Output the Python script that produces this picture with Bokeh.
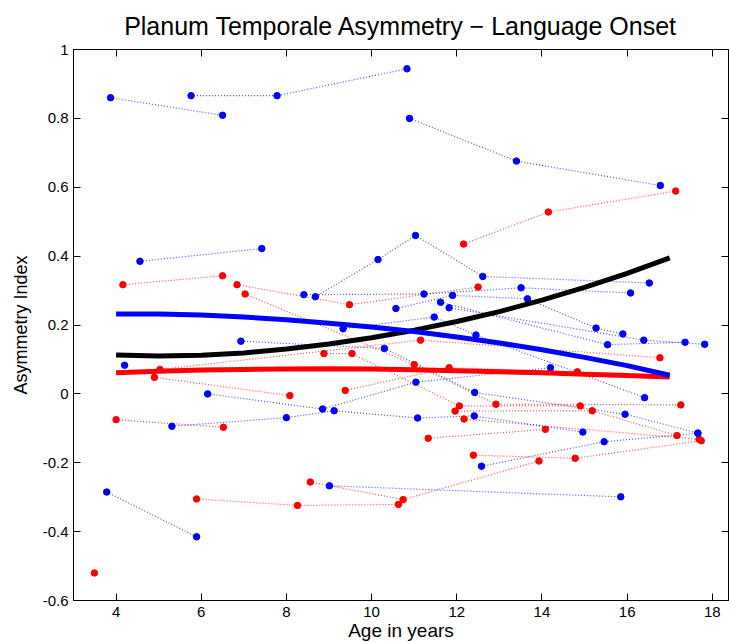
from bokeh.plotting import figure
from bokeh.models import LinearAxis, FixedTicker
from bokeh.embed import file_html
from bokeh.resources import INLINE

# ---- data (ages in years, asymmetry index) ----
blue_ages = [
    [3.87, 6.50],
    [5.76, 7.78, 10.83],
    [10.89, 13.40, 16.78],
    [4.56, 7.42],
    [8.68, 10.15, 11.03, 12.61, 16.52],
    [8.41, 11.23, 13.51, 16.08],
    [10.57, 11.90, 13.66, 15.27, 15.90],
    [11.62, 15.54, 17.36],
    [11.82, 16.39, 17.82],
    [9.33, 11.47, 12.45, 16.41],
    [6.93, 10.30, 12.42, 15.95, 17.66],
    [4.20],
    [6.15, 8.85, 11.04, 14.20],
    [5.31, 8.00, 9.12, 11.08, 12.41, 14.96],
    [12.58, 15.46, 17.66],
    [3.78, 5.89],
    [9.01, 15.85],
]
blue_ai = [
    [0.860, 0.809],
    [0.866, 0.866, 0.944],
    [0.800, 0.676, 0.605],
    [0.385, 0.422],
    [0.282, 0.390, 0.460, 0.341, 0.322],
    [0.288, 0.290, 0.308, 0.293],
    [0.248, 0.286, 0.276, 0.191, 0.174],
    [0.266, 0.143, 0.150],
    [0.250, 0.156, 0.144],
    [0.189, 0.223, 0.171, -0.011],
    [0.153, 0.132, 0.004, -0.059, -0.114],
    [0.083],
    [0.000, -0.044, 0.034, 0.076],
    [-0.094, -0.069, -0.049, -0.070, -0.064, -0.111],
    [-0.210, -0.139, -0.114],
    [-0.285, -0.415],
    [-0.267, -0.299],
]
red_ages = [
    [12.16, 14.15, 17.14],
    [4.16, 6.50],
    [6.84, 9.48, 12.50],
    [7.03, 11.00, 12.92, 17.26],
    [8.88, 9.54, 12.06, 14.90],
    [11.96, 15.18, 17.17],
    [4.90, 8.08],
    [5.03, 11.15, 16.77],
    [9.38, 11.82, 14.83],
    [11.33, 14.08],
    [12.17, 17.69],
    [12.39, 14.78, 17.74],
    [5.89, 8.26, 10.63],
    [8.56, 10.74, 13.93],
    [3.49],
    [4.00, 6.52],
]
red_ai = [
    [0.435, 0.528, 0.589],
    [0.317, 0.343],
    [0.317, 0.259, 0.310],
    [0.290, 0.085, -0.030, -0.032],
    [0.117, 0.117, -0.035, -0.035],
    [-0.050, -0.049, -0.121],
    [0.048, -0.005],
    [0.071, 0.156, 0.105],
    [0.010, 0.076, 0.064],
    [-0.129, -0.103],
    [-0.073, -0.132],
    [-0.178, -0.187, -0.136],
    [-0.305, -0.324, -0.321],
    [-0.256, -0.307, -0.195],
    [-0.520],
    [-0.075, -0.097],
]

fit_ages = [4, 5, 6, 7, 8, 9, 10, 11, 12, 13, 14, 15, 16, 17]
fit_black = [0.113, 0.110, 0.112, 0.119, 0.130, 0.145, 0.163, 0.185, 0.210, 0.239, 0.272, 0.309, 0.350, 0.395]
fit_blue = [0.232, 0.232, 0.229, 0.223, 0.215, 0.205, 0.194, 0.181, 0.165, 0.148, 0.128, 0.106, 0.082, 0.054]
fit_red = [0.061, 0.066, 0.069, 0.071, 0.072, 0.073, 0.072, 0.070, 0.067, 0.064, 0.061, 0.057, 0.053, 0.049]

x_ticks = [4, 6, 8, 10, 12, 14, 16, 18]
y_ticks = [-0.6, -0.4, -0.2, 0, 0.2, 0.4, 0.6, 0.8, 1]
y_tick_labels = ["-0.6", "-0.4", "-0.2", "0", "0.2", "0.4", "0.6", "0.8", "1"]

FONT = "Liberation Sans"
BLUE = "#0000ff"
RED = "#ff0000"

p = figure(width=729, height=643, x_range=(3, 18.38), y_range=(-0.6, 1),
           output_backend="svg", toolbar_location=None,
           min_border_left=73, min_border_right=1, min_border_top=48,
           min_border_bottom=42)
p.background_fill_color = "white"
p.border_fill_color = "white"
p.grid.visible = False
p.outline_line_color = "black"
p.outline_line_width = 1

p.title.text = "Planum Temporale Asymmetry \u2212 Language Onset"
p.title.align = "center"
p.title.text_font = FONT
p.title.text_font_size = "25px"
p.title.text_font_style = "normal"
p.title.text_color = "black"
p.title.standoff = 19

def style_axis(ax, labels=True):
    ax.axis_line_color = "black"
    ax.major_tick_line_color = "black"
    ax.major_tick_in = 7
    ax.major_tick_out = 0
    ax.minor_tick_line_color = None
    ax.major_label_text_font = FONT
    ax.major_label_text_font_size = "15px"
    ax.major_label_text_color = "black"
    ax.axis_label_text_font = FONT
    ax.axis_label_text_font_style = "normal"
    ax.axis_label_text_color = "black"
    if not labels:
        ax.major_label_text_font_size = "0px"
        ax.major_label_text_alpha = 0

xb = p.xaxis[0]
xb.ticker = FixedTicker(ticks=x_ticks)
style_axis(xb)
xb.axis_label = "Age in years"
xb.axis_label_text_font_size = "19px"
xb.axis_label_standoff = 0
xb.major_label_standoff = 6

yl = p.yaxis[0]
yl.ticker = FixedTicker(ticks=y_ticks)
yl.major_label_overrides = {t: s for t, s in zip(y_ticks, y_tick_labels)}
style_axis(yl)
yl.axis_label = "Asymmetry Index"
yl.axis_label_text_font_size = "18px"
yl.axis_label_standoff = 9
yl.major_label_standoff = 5

xt = LinearAxis(ticker=FixedTicker(ticks=x_ticks))
style_axis(xt, labels=False)
p.add_layout(xt, "above")
yr = LinearAxis(ticker=FixedTicker(ticks=y_ticks))
style_axis(yr, labels=False)
p.add_layout(yr, "right")

# subject trajectories (dotted) and visits (dots)
for ages, vals in zip(red_ages, red_ai):
    if len(ages) > 1:
        p.line(ages, vals, line_color=RED, line_width=1.2, line_dash="1 2", line_alpha=0.7)
for ages, vals in zip(blue_ages, blue_ai):
    if len(ages) > 1:
        p.line(ages, vals, line_color=BLUE, line_width=1.2, line_dash="1 2", line_alpha=0.7)
for ages, vals in zip(red_ages, red_ai):
    p.scatter(ages, vals, size=6.5, fill_color=RED, line_color=RED)
for ages, vals in zip(blue_ages, blue_ai):
    p.scatter(ages, vals, size=6.5, fill_color=BLUE, line_color=BLUE)

# fitted curves
p.line(fit_ages, fit_red, line_color=RED, line_width=5)
p.line(fit_ages, fit_black, line_color="black", line_width=5)
p.line(fit_ages, fit_blue, line_color=BLUE, line_width=5)

open("out.html", "w").write(file_html(p, INLINE))
